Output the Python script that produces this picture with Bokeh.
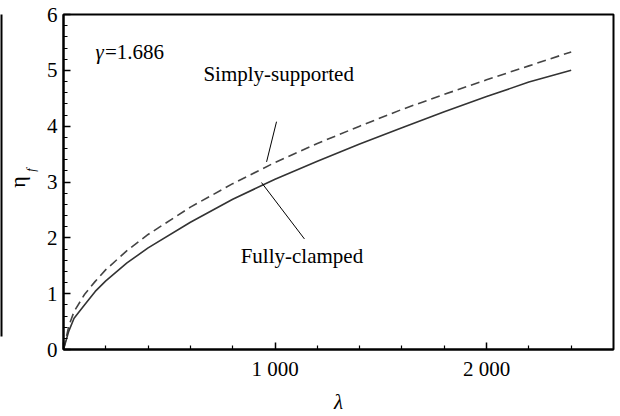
from bokeh.plotting import figure
from bokeh.models import FixedTicker, Label, Range1d, LinearAxis
from bokeh.embed import file_html
from bokeh.resources import INLINE

# ---- data ----
lam = [0, 25, 50, 100, 150, 200, 300, 400, 600, 800, 1000, 1200, 1400, 1600, 1800, 2000, 2200, 2400]
eta_clamped = [0, 0.33, 0.56, 0.80, 1.04, 1.23, 1.55, 1.82, 2.28, 2.69, 3.05, 3.37, 3.68, 3.97, 4.26, 4.53, 4.79, 5.00]
eta_simply = [0, 0.42, 0.68, 0.99, 1.22, 1.43, 1.77, 2.06, 2.55, 2.97, 3.35, 3.69, 4.00, 4.30, 4.57, 4.83, 5.08, 5.33]

x_major = [0, 1000, 2000]
x_minor = [200, 400, 600, 800, 1200, 1400, 1600, 1800, 2200, 2400]
x_labels = {0: "", 1000: "1 000", 2000: "2 000"}
y_major = [0, 1, 2, 3, 4, 5, 6]
y_minor = [i / 5 for i in range(31) if i % 5]

gamma_text = "=1.686"
ss_text = "Simply-supported"
fc_text = "Fully-clamped"
ss_leader = ([1007, 960], [4.08, 3.36])
fc_leader = ([936, 1139], [2.99, 1.98])

FONT = "Liberation Serif"

p = figure(width=620, height=416, output_backend="svg", toolbar_location=None,
           x_range=Range1d(0, 2600), y_range=Range1d(0, 6),
           min_border_left=63, min_border_right=7, min_border_top=14, min_border_bottom=65)
p.background_fill_color = "white"
p.border_fill_color = "white"
p.outline_line_color = "black"
p.outline_line_width = 2
p.grid.visible = False

p.line(lam, eta_simply, line_color="#444444", line_width=1.6, line_dash="9 5")
p.line(lam, eta_clamped, line_color="#333333", line_width=1.6)

p.segment(x0=[ss_leader[0][0], fc_leader[0][0]], y0=[ss_leader[1][0], fc_leader[1][0]],
          x1=[ss_leader[0][1], fc_leader[0][1]], y1=[ss_leader[1][1], fc_leader[1][1]],
          line_color="black", line_width=1)

for ax in (p.xaxis[0], p.yaxis[0]):
    ax.axis_line_width = 2
    ax.axis_line_color = "black"
    ax.major_tick_out = 0
    ax.minor_tick_out = 0
    ax.major_tick_line_color = "black"
    ax.minor_tick_line_color = "black"
    ax.major_tick_line_width = 1.5
    ax.minor_tick_line_width = 1.2
    ax.major_label_text_font = FONT
    ax.major_label_text_font_size = "21px"
    ax.major_label_text_color = "black"
    ax.axis_label_text_color = "black"

p.xaxis.ticker = FixedTicker(ticks=x_major, minor_ticks=x_minor)
p.xaxis.major_label_overrides = x_labels
p.xaxis.major_tick_in = 7
p.xaxis.minor_tick_in = 4
p.xaxis.major_label_standoff = 7
p.xaxis.axis_label = "λ"
p.xaxis.axis_label_text_font = FONT
p.xaxis.axis_label_text_font_style = "italic"
p.xaxis.axis_label_text_font_size = "21px"
p.xaxis.axis_label_standoff = 6

p.yaxis.ticker = FixedTicker(ticks=y_major, minor_ticks=y_minor)
p.yaxis.major_tick_in = 7
p.yaxis.minor_tick_in = 4
p.yaxis.major_label_standoff = 6
p.yaxis.major_label_orientation = "horizontal"
# subscript "f" of the y label (eta_f)
p.yaxis.axis_label = "\u2003\u2003f"
p.yaxis.axis_label_text_font = FONT
p.yaxis.axis_label_text_font_style = "italic"
p.yaxis.axis_label_text_font_size = "12px"
p.yaxis.axis_label_standoff = 6


def bare_axis():
    a = LinearAxis(ticker=FixedTicker(ticks=[]), major_tick_out=0, major_tick_in=0,
                   minor_tick_out=0, minor_tick_in=0, major_label_text_font_size="0px")
    return a

# main symbol eta of the y label
eta_axis = bare_axis()
eta_axis.axis_line_color = None
eta_axis.axis_label = "η"
eta_axis.axis_label_text_font = FONT
eta_axis.axis_label_text_font_style = "normal"
eta_axis.axis_label_text_font_size = "22px"
eta_axis.axis_label_text_color = "black"
eta_axis.axis_label_standoff = -9
p.add_layout(eta_axis, "left")

# cropped edge line at the far left of the reference image
edge_axis = bare_axis()
edge_axis.axis_line_color = "black"
edge_axis.axis_line_width = 2
edge_axis.bounds = (0.23, 6)
p.add_layout(edge_axis, "left")

# annotations
p.add_layout(Label(x=151, y=5.32, text="γ", text_font=FONT, text_font_size="21px",
                   text_font_style="italic", text_baseline="middle", text_color="black"))
p.add_layout(Label(x=196, y=5.32, text=gamma_text, text_font=FONT, text_font_size="21px",
                   text_baseline="middle", text_color="black"))
p.add_layout(Label(x=1017, y=4.93, text=ss_text, text_font=FONT, text_font_size="21px",
                   text_align="center", text_baseline="middle", text_color="black"))
p.add_layout(Label(x=1127, y=1.67, text=fc_text, text_font=FONT, text_font_size="21px",
                   text_align="center", text_baseline="middle", text_color="black"))

open("out.html", "w").write(file_html(p, INLINE))
